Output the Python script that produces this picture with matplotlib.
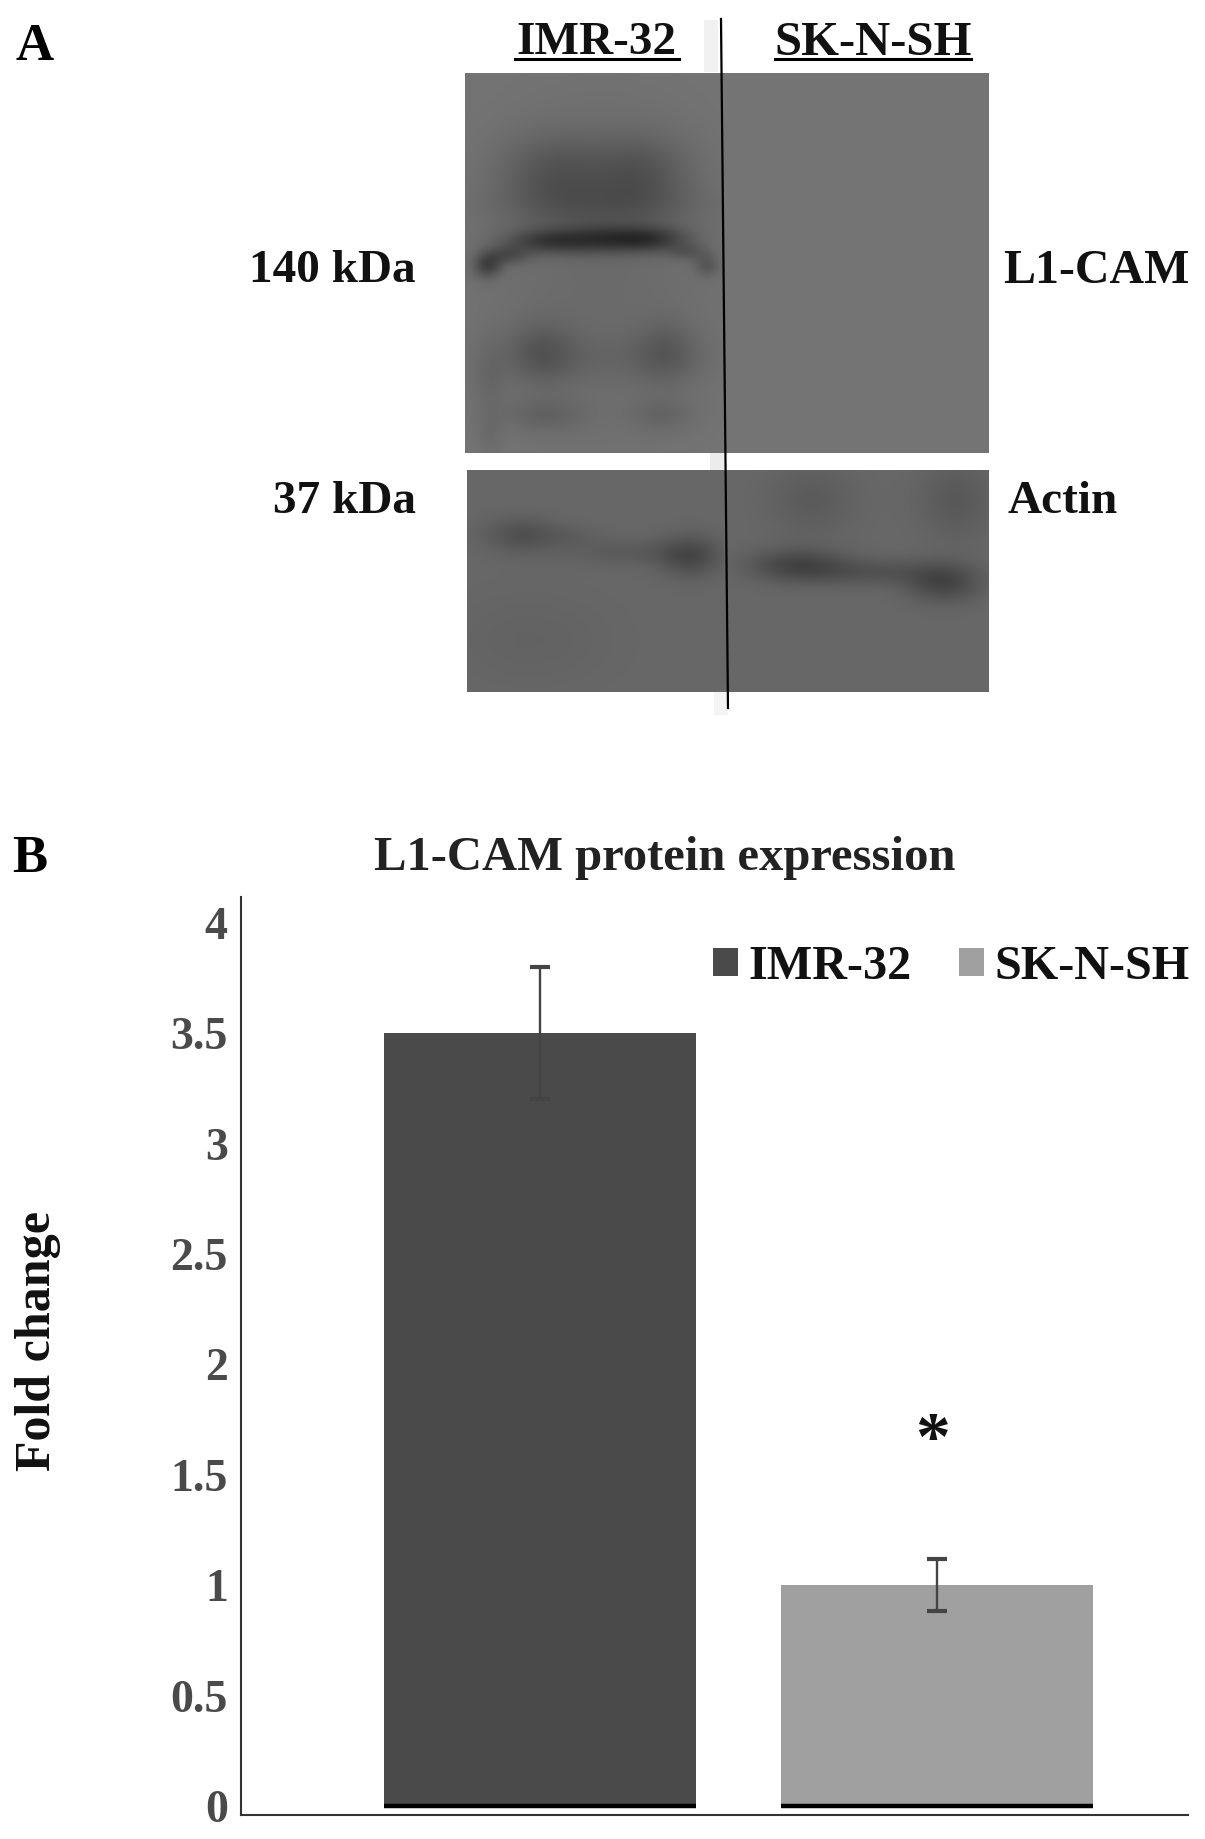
import numpy as np
import matplotlib
matplotlib.use("Agg")
import matplotlib.pyplot as plt

plt.rcParams['font.family'] = ['Liberation Serif', 'DejaVu Serif']
plt.rcParams['font.weight'] = 'bold'

W, H = 1205, 1839

# bar chart values
cell_lines = ['IMR-32', 'SK-N-SH']
fold_change = [3.5, 1.0]
fold_err = [0.3, 0.118]
bar_colors = ['#4a4a4a', '#a0a0a0']
y_ticks = [0, 0.5, 1, 1.5, 2, 2.5, 3, 3.5, 4]
y_tick_labels = ['0', '0.5', '1', '1.5', '2', '2.5', '3', '3.5', '4']

# blot bands: x, y, sigma x, sigma y, darkness (figure pixels)
l1cam_bands = [
    (600, 270, 85, 120, 0.04),
    (555, 175, 38, 28, 0.11),
    (640, 175, 35, 28, 0.11),
    (600, 208, 70, 16, 0.06),
    (545, 241, 30, 9, 0.17),
    (600, 239, 32, 10, 0.17),
    (650, 239, 28, 9, 0.19),
    (487, 265, 10, 9, 0.18),
    (507, 255, 15, 7, 0.12),
    (707, 265, 9, 8, 0.10),
    (688, 252, 14, 6, 0.08),
    (541, 353, 24, 22, 0.09),
    (666, 353, 22, 22, 0.08),
    (600, 358, 70, 18, 0.03),
    (545, 415, 28, 12, 0.06),
    (662, 415, 22, 12, 0.05),
    (489, 381, 12, 28, 0.04),
    (490, 435, 9, 14, 0.03),
]
actin_bands = [
    (521, 535, 26, 13, 0.09),
    (570, 535, 24, 8, 0.03),
    (628, 552, 45, 10, 0.05),
    (690, 556, 22, 15, 0.12),
    (797, 565, 34, 12, 0.13),
    (873, 572, 50, 10, 0.08),
    (944, 583, 26, 14, 0.13),
    (812, 500, 30, 26, 0.05),
    (956, 500, 26, 28, 0.06),
    (530, 640, 60, 35, 0.02),
]
lane_split = 724


def blot_image(x0, x1, y0, y1, base, bands):
    xx, yy = np.meshgrid(np.arange(x0, x1), np.arange(y0, y1))
    img = np.full(xx.shape, base, dtype=float)
    for cx, cy, sx, sy, d in bands:
        # the two cell lines were spliced, so a band stops at the line
        same_lane = (xx < lane_split) == (cx < lane_split)
        img -= same_lane * d * np.exp(-((xx - cx) / sx) ** 2 / 2 - ((yy - cy) / sy) ** 2 / 2)
    return img


fig = plt.figure(figsize=(W / 100, H / 100), dpi=100, facecolor='white')

# overlay in figure pixels for panel A and the loose labels
page = fig.add_axes([0, 0, 1, 1])
page.axis('off')

top = blot_image(465, 989, 73, 453, 0.46, l1cam_bands)
bottom = blot_image(467, 989, 470, 692, 0.41, actin_bands)
page.imshow(top, extent=(465, 989, 453, 73), cmap='gray', vmin=0, vmax=1, aspect='auto')
page.imshow(bottom, extent=(467, 989, 692, 470), cmap='gray', vmin=0, vmax=1, aspect='auto')

# faint smear left over from the splice
page.fill_between([704, 718], 20, 72, color='#f1f1f1', lw=0)
page.fill_between([710, 724], 453, 470, color='#ececec', lw=0)
page.fill_between([714, 728], 692, 715, color='#f4f4f4', lw=0)
page.plot([721, 728], [19, 708], color='black', lw=1.6)

page.text(596, 43, 'IMR-32', fontsize=34, ha='center', va='center', color='#111111')
page.text(873, 43, 'SK-N-SH', fontsize=35, ha='center', va='center', color='#111111')
page.plot([515, 679], [59, 59], color='black', lw=2.2)
page.plot([775, 971], [59, 59], color='black', lw=2.2)

page.text(416, 271, '140 kDa', fontsize=34, ha='right', va='center', color='#111111')
page.text(416, 502, '37 kDa', fontsize=34, ha='right', va='center', color='#111111')
page.text(1003, 271, 'L1-CAM', fontsize=34.5, ha='left', va='center', color='#111111')
page.text(1007, 502, 'Actin', fontsize=34, ha='left', va='center', color='#111111')
page.text(15, 47, 'A', fontsize=38, ha='left', va='center', color='black')
page.text(12, 859, 'B', fontsize=38, ha='left', va='center', color='black')
page.text(665, 858, 'L1-CAM protein expression', fontsize=35, ha='center', va='center',
          color='#222222')
page.text(38, 1341, 'Fold change', fontsize=36, rotation=90, ha='center', va='center',
          color='#111111')

page.set_xlim(0, W)
page.set_ylim(H, 0)

# panel B
ax = fig.add_axes([241 / W, 1 - 1815 / H, (1188 - 241) / W, (1815 - 897) / H])
ax.patch.set_alpha(0)
x = np.arange(len(cell_lines))
bars = ax.bar(x, fold_change, width=0.786, color=bar_colors, zorder=2)
ax.errorbar(x, fold_change, yerr=fold_err, fmt='none', ecolor='#444444', elinewidth=1.7,
            capsize=7, capthick=3, zorder=3)
ax.hlines([0, 0], x - 0.393, x + 0.393, color='black', lw=3.2, zorder=4)
ax.text(x[1] - 0.012, 1.645, '*', fontsize=50, ha='center', va='center', color='#111111')

ax.set_xlim(-0.753, 1.632)
ax.set_ylim(-0.041, 4.117)
ax.set_xticks([])
ax.set_yticks(y_ticks)
ax.set_yticklabels(y_tick_labels, fontsize=33, color='#4a4a4a')
ax.tick_params(axis='y', length=0, pad=9.5)
for side in ['top', 'right']:
    ax.spines[side].set_visible(False)
for side in ['left', 'bottom']:
    ax.spines[side].set_color('#333333')
    ax.spines[side].set_linewidth(1.5)

ax.legend(bars, cell_lines, ncol=2, frameon=False, fontsize=34.7, loc='upper right',
          bbox_to_anchor=(1190 / W, 1 - 945 / H), bbox_transform=fig.transFigure,
          borderpad=0, borderaxespad=0, handlelength=0.52, handleheight=0.52,
          handletextpad=0.22, columnspacing=0.98, labelcolor='#111111')

fig.savefig('out.png', dpi=100)
